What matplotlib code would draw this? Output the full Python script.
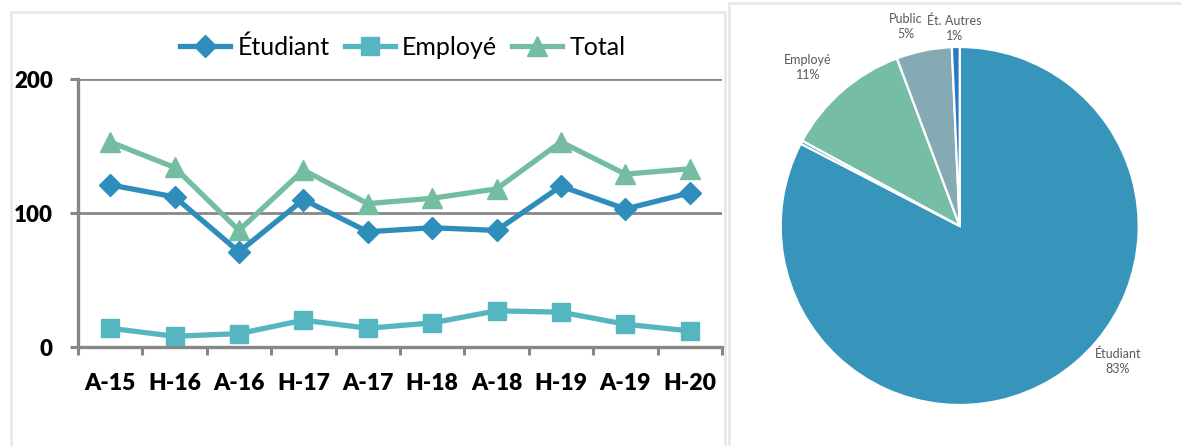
import matplotlib
matplotlib.use("Agg")
import matplotlib.pyplot as plt
from matplotlib.patches import Rectangle
import numpy as np

plt.rcParams['font.family'] = ['Lato', 'DejaVu Sans']

# ---- data ----
sessions = ["A-15", "H-16", "A-16", "H-17", "A-17", "H-18", "A-18", "H-19", "A-19", "H-20"]
etudiant = [121, 112, 71, 110, 86, 89, 87, 120, 103, 115]
employe = [14, 8, 10, 20, 14, 18, 27, 26, 17, 12]
total = [153, 134, 87, 132, 107, 111, 118, 153, 129, 133]

pie_labels = ["Étudiant", "", "Employé", "Public", "Ét. Autres"]
pie_values = [82.6, 0.3, 11.4, 5.0, 0.7]

W, H = 1181, 446
fig = plt.figure(figsize=(W / 100, H / 100), dpi=100)
fig.patch.set_facecolor("white")

def fx(px):
    return px / W

def fy(py):
    return 1 - py / H

# panel frames
fig.patches.append(Rectangle((fx(11), fy(460)), fx(725) - fx(11), fy(12) - fy(460),
                             transform=fig.transFigure, fill=False,
                             edgecolor="#e6e6e6", linewidth=1.8, zorder=0))
fig.patches.append(Rectangle((fx(729), fy(460)), fx(1200) - fx(729), fy(3) - fy(460),
                             transform=fig.transFigure, fill=False,
                             edgecolor="#e6e6e6", linewidth=1.8, zorder=0))

# ---- line chart ----
ax = fig.add_axes([fx(78), fy(347), fx(722) - fx(78), fy(79) - fy(347)])
x = np.arange(len(sessions))
grey = "#878787"
c_et, c_em, c_to = "#2E8DBA", "#55B6C2", "#74BDA0"

ax.plot(x, etudiant, color=c_et, lw=3.8, marker="D", ms=11.5, mec=c_et, mfc=c_et,
        label="Étudiant", zorder=4)
ax.plot(x, employe, color=c_em, lw=3.8, marker="s", ms=13.5, mec=c_em, mfc=c_em,
        label="Employé", zorder=3)
ax.plot(x, total, color=c_to, lw=3.8, marker="^", ms=14, mec=c_to, mfc=c_to,
        label="Total", zorder=3)

ax.set_xlim(-0.5, len(sessions) - 0.5)
ax.set_ylim(0, 200)
ax.set_yticks([0, 100, 200])
ax.set_xticks(x)
ax.set_xticklabels(sessions)
ax.set_xticks(np.arange(-0.5, len(sessions), 1.0), minor=True)
ax.yaxis.grid(True, color=grey, lw=2.0, zorder=0)
ax.set_axisbelow(True)
for s in ["top", "right"]:
    ax.spines[s].set_visible(False)
for s in ["left", "bottom"]:
    ax.spines[s].set_color(grey)
    ax.spines[s].set_linewidth(2.4)
ax.tick_params(axis="y", which="major", length=6, width=2.2, color=grey, pad=12,
               labelsize=16)
ax.tick_params(axis="x", which="major", length=0, pad=19, labelsize=16.5)
ax.tick_params(axis="x", which="minor", length=6, width=2.2, color=grey)
for lab in ax.get_xticklabels() + ax.get_yticklabels():
    lab.set_fontweight("heavy")
    lab.set_color("black")

fig.legend(loc="center", bbox_to_anchor=(fx(403), fy(47)), ncol=3, frameon=False,
           fontsize=18, handlelength=2.0, handletextpad=0.3, columnspacing=0.6)

# ---- pie chart ----
cx, cy, r = 959.7, 226, 179
pax = fig.add_axes([fx(cx - r), fy(cy + r), fx(2 * r), fy(cy - r) - fy(cy + r)])
pie_colors = ["#3795BC", "#3795BC", "#76BDA6", "#86AAB4", "#2B78C5"]
pax.pie(pie_values, colors=pie_colors, startangle=90, counterclock=False,
        wedgeprops=dict(edgecolor="white", linewidth=1.6))
pax.set_xlim(-1, 1)
pax.set_ylim(-1, 1)
pax.set_aspect("equal")
pax.axis("off")

label_pos = {
    "Étudiant": (0.883, -0.754),
    "Employé": (-0.849, 0.888),
    "Public": (-0.302, 1.117),
    "Ét. Autres": (-0.028, 1.106),
}
for lab, v in zip(pie_labels, pie_values):
    if not lab:
        continue
    px_, py_ = label_pos[lab]
    pax.text(px_, py_, f"{lab}\n{round(v)}%", ha="center", va="center",
             fontsize=9, color="#595959", linespacing=1.3, clip_on=False)

fig.savefig("out.png", dpi=100)
